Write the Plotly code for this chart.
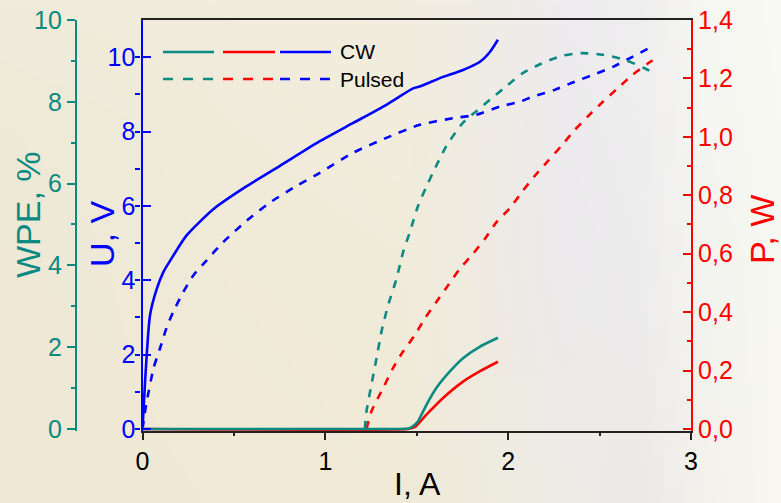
import base64
import struct
import zlib

import numpy as np
import plotly.graph_objects as go

# ---------------- data ----------------
# CW operation: voltage U (V), wall-plug efficiency WPE (%), output power P (W) vs current I (A)
I_cw_u = [0, 0.014, 0.041, 0.078, 0.114, 0.168, 0.24, 0.387, 0.57, 0.75, 0.97,
          1.152, 1.334, 1.48, 1.516, 1.644, 1.75, 1.844, 1.9, 1.944]
U_cw = [0, 1.27, 3.06, 3.77, 4.22, 4.66, 5.2, 5.91, 6.53, 7.07, 7.74,
        8.23, 8.72, 9.16, 9.21, 9.47, 9.65, 9.87, 10.14, 10.47]

I_cw_w = [0, 1.40, 1.46, 1.48, 1.507, 1.553, 1.607, 1.68, 1.753, 1.844, 1.944]
WPE_cw = [0, 0, 0.02, 0.07, 0.19, 0.59, 1.0, 1.4, 1.73, 2.01, 2.23]

I_cw_p = [0, 1.45, 1.489, 1.553, 1.644, 1.753, 1.844, 1.944]
P_cw = [0, 0, 0.006, 0.049, 0.106, 0.162, 0.197, 0.23]

# Pulsed operation
I_pu_u = [0, 0.02, 0.06, 0.096, 0.13, 0.168, 0.223, 0.278, 0.35, 0.44, 0.57,
          0.697, 0.84, 0.97, 1.152, 1.334, 1.516, 1.70, 1.826, 1.953, 2.063,
          2.135, 2.254, 2.363, 2.463, 2.573, 2.68, 2.80]
U_pu = [0, 0.65, 1.63, 2.17, 2.7, 3.15, 3.68, 4.13, 4.53, 5.02, 5.6,
        6.09, 6.53, 6.89, 7.43, 7.83, 8.18, 8.36, 8.45, 8.67, 8.8,
        8.94, 9.12, 9.34, 9.52, 9.74, 10.01, 10.32]

I_pu_w = [1.216, 1.225, 1.252, 1.28, 1.307, 1.343, 1.389, 1.425, 1.462, 1.507,
          1.55, 1.589, 1.662, 1.753, 1.826, 1.9, 1.99, 2.08, 2.18, 2.29, 2.40,
          2.518, 2.637, 2.746, 2.81]
WPE_pu = [0, 0.43, 1.08, 1.73, 2.38, 3.02, 3.67, 4.32, 4.81, 5.45,
          5.9, 6.27, 6.92, 7.49, 7.77, 8.05, 8.38, 8.70, 8.93, 9.12, 9.19,
          9.15, 9.03, 8.82, 8.68]

I_pu_p = [1.225, 1.252, 1.316, 1.37, 1.425, 1.489, 1.544, 1.607, 1.671, 1.735,
          1.808, 1.872, 1.935, 2.008, 2.08, 2.145, 2.217, 2.29, 2.363, 2.436,
          2.518, 2.6, 2.68, 2.78, 2.8]
P_pu = [0, 0.06, 0.14, 0.208, 0.265, 0.321, 0.378, 0.435, 0.491, 0.548,
        0.60, 0.65, 0.707, 0.755, 0.815, 0.866, 0.917, 0.968, 1.023, 1.07,
        1.12, 1.167, 1.212, 1.258, 1.265]

legend_labels = ["CW", "Pulsed"]

# ---------------- styles ----------------
W_PX, H_PX = 781, 503
TEAL = "#0A8A80"
BLUE = "#0000FF"
RED = "#FF0000"
FONT = "Arial, Liberation Sans, sans-serif"
DASH = "8px,8px"


def px_x(p):
    return p / W_PX


def px_y(p):
    return 1 - p / H_PX


# soft backdrop: small colour grid, stretched smoothly over the page
stop_x = [0, 200, 400, 480, 560, 640, 700, 781]
stop_rows = [
    [(240, 235, 218), (241, 236, 219), (242, 237, 222), (240, 237, 230),
     (238, 236, 238), (240, 239, 240), (246, 246, 242), (250, 250, 244)],
    [(238, 232, 214), (240, 234, 216), (241, 236, 218), (239, 235, 226),
     (236, 234, 236), (238, 237, 238), (244, 244, 240), (248, 248, 242)],
    [(238, 232, 212), (239, 233, 213), (240, 234, 215), (239, 235, 222),
     (238, 236, 230), (236, 234, 232), (242, 241, 236), (248, 247, 240)],
]
stop_y = [0, 250, 503]


def backdrop_uri(w=196, h=126):
    xs = np.linspace(0, W_PX, w)
    ys = np.linspace(0, H_PX, h)
    rows = []
    for r in stop_rows:
        arr = np.array(r, dtype=float)
        rows.append(np.stack([np.interp(xs, stop_x, arr[:, c]) for c in range(3)], axis=1))
    rows = np.array(rows)
    img = np.empty((h, w, 3))
    for c in range(3):
        for j in range(w):
            img[:, j, c] = np.interp(ys, stop_y, rows[:, j, c])
    img = np.clip(img, 0, 255).astype(np.uint8)
    raw = b"".join(b"\x00" + img[i].tobytes() for i in range(h))

    def chunk(tag, data):
        return (struct.pack(">I", len(data)) + tag + data
                + struct.pack(">I", zlib.crc32(tag + data) & 0xFFFFFFFF))

    png = (b"\x89PNG\r\n\x1a\n"
           + chunk(b"IHDR", struct.pack(">IIBBBBB", w, h, 8, 2, 0, 0, 0))
           + chunk(b"IDAT", zlib.compress(raw, 9))
           + chunk(b"IEND", b""))
    return "data:image/png;base64," + base64.b64encode(png).decode()


fig = go.Figure()

line_w = 2.6
# U curves (left inner axis)
fig.add_trace(go.Scatter(x=I_pu_u, y=U_pu, mode="lines", yaxis="y",
                         line=dict(color=BLUE, width=line_w, dash=DASH, shape="spline", smoothing=0.6)))
fig.add_trace(go.Scatter(x=I_cw_u, y=U_cw, mode="lines", yaxis="y",
                         line=dict(color=BLUE, width=line_w, shape="spline", smoothing=0.6)))
# P curves (right axis)
fig.add_trace(go.Scatter(x=I_pu_p, y=P_pu, mode="lines", yaxis="y2",
                         line=dict(color=RED, width=line_w, dash=DASH, shape="spline", smoothing=0.6)))
fig.add_trace(go.Scatter(x=I_cw_p, y=P_cw, mode="lines", yaxis="y2",
                         line=dict(color=RED, width=line_w, shape="spline", smoothing=0.5)))
# WPE curves (left outer axis)
fig.add_trace(go.Scatter(x=I_pu_w, y=WPE_pu, mode="lines", yaxis="y3",
                         line=dict(color=TEAL, width=line_w, dash=DASH, shape="spline", smoothing=0.6)))
fig.add_trace(go.Scatter(x=I_cw_w, y=WPE_cw, mode="lines", yaxis="y3",
                         line=dict(color=TEAL, width=line_w, shape="spline", smoothing=0.5)))

x_dom = [px_x(142.5), px_x(691)]
y_dom = [1 - 431 / H_PX, 1 - 20 / H_PX]
tick_font = 25

fig.update_layout(
    width=W_PX, height=H_PX,
    margin=dict(l=0, r=0, t=0, b=0, pad=0),
    paper_bgcolor="#EEE8D6",
    plot_bgcolor="rgba(0,0,0,0)",
    separators=", ",
    showlegend=False,
    font=dict(family=FONT),
    images=[dict(source=backdrop_uri(), xref="paper", yref="paper", x=0, y=1,
                 sizex=1, sizey=1, sizing="stretch", layer="below",
                 xanchor="left", yanchor="top")],
    xaxis=dict(domain=x_dom, range=[0, 3], dtick=1, showgrid=False, zeroline=False,
               automargin=False,
               ticks="outside", ticklen=7, tickwidth=2, tickcolor="#222",
               linecolor="#222", linewidth=1.6, mirror=True,
               tickfont=dict(size=tick_font, color="black"),
               minor=dict(dtick=0.5, ticks="outside", ticklen=3, tickwidth=1.5, tickcolor="#222")),
    yaxis=dict(domain=y_dom, range=[-0.055, 11], dtick=2, showgrid=False, zeroline=False,
               automargin=False, anchor="x", side="left",
               ticks="inside", ticklen=8, tickwidth=2, tickcolor=BLUE,
               linecolor=BLUE, linewidth=2.2,
               tickfont=dict(size=tick_font, color=BLUE),
               minor=dict(dtick=1, ticks="outside", ticklen=5, tickwidth=2, tickcolor=BLUE)),
    yaxis2=dict(domain=y_dom, range=[-0.007, 1.4], dtick=0.2, tickformat=".1f",
                showgrid=False, zeroline=False, overlaying="y", anchor="x", side="right",
                automargin=False,
                ticks="inside", ticklen=8, tickwidth=2, tickcolor=RED,
                linecolor=RED, linewidth=2.2,
                tickfont=dict(size=tick_font, color=RED),
                minor=dict(dtick=0.1, ticks="inside", ticklen=4, tickwidth=2, tickcolor=RED)),
    yaxis3=dict(domain=y_dom, range=[-0.05, 10], dtick=2, showgrid=False, zeroline=False,
                overlaying="y", anchor="free", position=px_x(76), side="left",
                automargin=False,
                ticks="outside", ticklen=8, tickwidth=2, tickcolor=TEAL,
                linecolor=TEAL, linewidth=2.2,
                tickfont=dict(size=tick_font, color=TEAL),
                minor=dict(dtick=1, ticks="outside", ticklen=4, tickwidth=2, tickcolor=TEAL)),
)

# axis titles
titles = [
    ("WPE, %", 28, 215, -90, TEAL, 34),
    ("U, V", 102, 234, -90, BLUE, 34),
    ("P, W", 762, 230, -90, RED, 34),
    ("I, A", 418, 484, 0, "black", 32),
]
for text, xp, yp, ang, col, size in titles:
    fig.add_annotation(text=text, x=px_x(xp), y=px_y(yp), xref="paper", yref="paper",
                       showarrow=False, textangle=ang, xanchor="center", yanchor="middle",
                       font=dict(size=size, color=col, family=FONT))

# legend: three line samples per row followed by the label
sample_cols = [TEAL, RED, BLUE]
sample_x = [(163, 214), (223, 275), (280, 331)]
for row, (label, yp, dash) in enumerate(zip(legend_labels, [52, 79], ["solid", "10px,10px"])):
    for col, (x0, x1) in zip(sample_cols, sample_x):
        fig.add_shape(type="line", xref="paper", yref="paper",
                      x0=px_x(x0), x1=px_x(x1), y0=px_y(yp), y1=px_y(yp),
                      line=dict(color=col, width=2.6, dash=dash))
    fig.add_annotation(text=label, x=px_x(338), y=px_y(yp), xref="paper", yref="paper",
                       showarrow=False, xanchor="left", yanchor="middle",
                       font=dict(size=21, color="black", family=FONT))

fig.write_html("out.html")
